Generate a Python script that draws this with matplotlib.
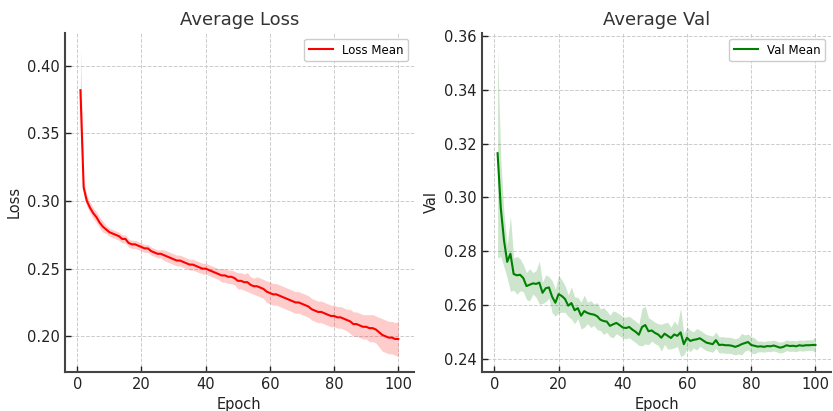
import numpy as np
import matplotlib
matplotlib.use('Agg')
import matplotlib.pyplot as plt

epochs = list(range(1, 101))

loss_mean = [
    0.382, 0.310, 0.300, 0.295, 0.291, 0.288, 0.284, 0.281, 0.279, 0.277,
    0.276, 0.275, 0.274, 0.272, 0.272, 0.269, 0.268, 0.268, 0.267, 0.266,
    0.265, 0.265, 0.263, 0.262, 0.261, 0.261, 0.260, 0.259, 0.258, 0.257,
    0.256, 0.256, 0.255, 0.254, 0.253, 0.253, 0.252, 0.251, 0.250, 0.250,
    0.249, 0.248, 0.247, 0.246, 0.245, 0.245, 0.244, 0.244, 0.243, 0.241,
    0.241, 0.240, 0.240, 0.238, 0.237, 0.237, 0.236, 0.235, 0.233, 0.232,
    0.231, 0.231, 0.230, 0.229, 0.228, 0.227, 0.226, 0.225, 0.225, 0.224,
    0.223, 0.222, 0.220, 0.219, 0.218, 0.218, 0.217, 0.216, 0.215, 0.215,
    0.214, 0.214, 0.213, 0.212, 0.211, 0.209, 0.209, 0.208, 0.207, 0.207,
    0.206, 0.206, 0.205, 0.203, 0.201, 0.200, 0.199, 0.199, 0.198, 0.198,
]
loss_std = [
    0.031, 0.006, 0.004, 0.004, 0.004, 0.004, 0.004, 0.004, 0.003, 0.003,
    0.003, 0.003, 0.003, 0.003, 0.003, 0.003, 0.003, 0.003, 0.003, 0.003,
    0.003, 0.003, 0.003, 0.003, 0.003, 0.003, 0.004, 0.004, 0.004, 0.004,
    0.004, 0.004, 0.004, 0.004, 0.004, 0.004, 0.004, 0.004, 0.004, 0.004,
    0.004, 0.004, 0.004, 0.004, 0.005, 0.005, 0.005, 0.005, 0.005, 0.006,
    0.006, 0.006, 0.007, 0.006, 0.006, 0.007, 0.007, 0.007, 0.008, 0.008,
    0.008, 0.008, 0.008, 0.008, 0.008, 0.008, 0.008, 0.008, 0.008, 0.008,
    0.008, 0.008, 0.008, 0.008, 0.008, 0.008, 0.008, 0.008, 0.008, 0.008,
    0.008, 0.008, 0.008, 0.008, 0.009, 0.009, 0.009, 0.009, 0.009, 0.009,
    0.010, 0.010, 0.010, 0.011, 0.012, 0.012, 0.012, 0.012, 0.012, 0.013,
]

val_mean = [
    0.3164, 0.2960, 0.2840, 0.2760, 0.2790, 0.2715, 0.2710, 0.2712, 0.2700, 0.2670,
    0.2675, 0.2680, 0.2678, 0.2683, 0.2645, 0.2662, 0.2665, 0.2630, 0.2608, 0.2640,
    0.2633, 0.2622, 0.2597, 0.2607, 0.2580, 0.2588, 0.2560, 0.2577, 0.2570, 0.2566,
    0.2564, 0.2558, 0.2545, 0.2540, 0.2538, 0.2522, 0.2528, 0.2533, 0.2525, 0.2516,
    0.2514, 0.2518, 0.2508, 0.2500, 0.2489, 0.2518, 0.2525, 0.2502, 0.2505, 0.2496,
    0.2490, 0.2478, 0.2493, 0.2485, 0.2477, 0.2490, 0.2485, 0.2498, 0.2454, 0.2478,
    0.2466, 0.2470, 0.2472, 0.2476, 0.2468, 0.2460, 0.2457, 0.2454, 0.2469, 0.2451,
    0.2452, 0.2450, 0.2450, 0.2448, 0.2444, 0.2448, 0.2454, 0.2458, 0.2462, 0.2451,
    0.2448, 0.2445, 0.2446, 0.2444, 0.2447, 0.2446, 0.2449, 0.2445, 0.2441, 0.2444,
    0.2450, 0.2447, 0.2448, 0.2446, 0.2450, 0.2448, 0.2450, 0.2450, 0.2451, 0.2451,
]
val_std = [
    0.039, 0.018, 0.010, 0.006, 0.014, 0.006, 0.007, 0.006, 0.005, 0.005,
    0.006, 0.004, 0.005, 0.008, 0.004, 0.005, 0.004, 0.006, 0.005, 0.007,
    0.006, 0.005, 0.004, 0.006, 0.005, 0.004, 0.005, 0.006, 0.004, 0.005,
    0.004, 0.005, 0.004, 0.005, 0.004, 0.004, 0.005, 0.004, 0.004, 0.004,
    0.004, 0.004, 0.004, 0.004, 0.004, 0.007, 0.007, 0.005, 0.004, 0.004,
    0.004, 0.005, 0.004, 0.005, 0.004, 0.005, 0.004, 0.009, 0.004, 0.004,
    0.004, 0.003, 0.004, 0.003, 0.003, 0.003, 0.003, 0.003, 0.003, 0.003,
    0.003, 0.003, 0.003, 0.003, 0.003, 0.003, 0.004, 0.003, 0.003, 0.003,
    0.003, 0.002, 0.002, 0.002, 0.002, 0.002, 0.002, 0.002, 0.002, 0.002,
    0.002, 0.002, 0.002, 0.002, 0.002, 0.002, 0.002, 0.002, 0.002, 0.003,
]

fig, axes = plt.subplots(1, 2, figsize=(8.33, 4.11), dpi=100)
fig.subplots_adjust(left=0.0775, right=0.998, bottom=0.095, top=0.92, wspace=0.193)

panels = [
    (axes[0], loss_mean, loss_std, 'red', 'Loss Mean', 'Average Loss', 'Loss'),
    (axes[1], val_mean, val_std, 'green', 'Val Mean', 'Average Val', 'Val'),
]

for ax, mean, std, color, label, title, ylabel in panels:
    m = np.array(mean)
    s = np.array(std)
    ax.fill_between(epochs, m - s, m + s, color=color, alpha=0.2, linewidth=0)
    ax.plot(epochs, m, color=color, linewidth=1.5, label=label)
    ax.set_title(title, fontsize=13, color='#333333')
    ax.set_xlabel('Epoch', fontsize=10.5, color='#222222')
    ax.set_ylabel(ylabel, fontsize=10.5, color='#222222')
    ax.grid(True, linestyle='--', color='#cccccc', linewidth=0.7)
    ax.set_axisbelow(True)
    for side in ['top', 'right']:
        ax.spines[side].set_visible(False)
    for side in ['left', 'bottom']:
        ax.spines[side].set_color('#444444')
        ax.spines[side].set_linewidth(1.5)
    ax.tick_params(direction='in', length=4, width=1, colors='#222222', labelsize=10.5)
    ax.set_xticks([0, 20, 40, 60, 80, 100])
    leg = ax.legend(loc='upper right', fontsize=8.5, framealpha=1, fancybox=True)
    leg.get_frame().set_edgecolor('#cccccc')

axes[1].set_yticks([0.24, 0.26, 0.28, 0.30, 0.32, 0.34, 0.36])

plt.savefig('out.png', dpi=100)
